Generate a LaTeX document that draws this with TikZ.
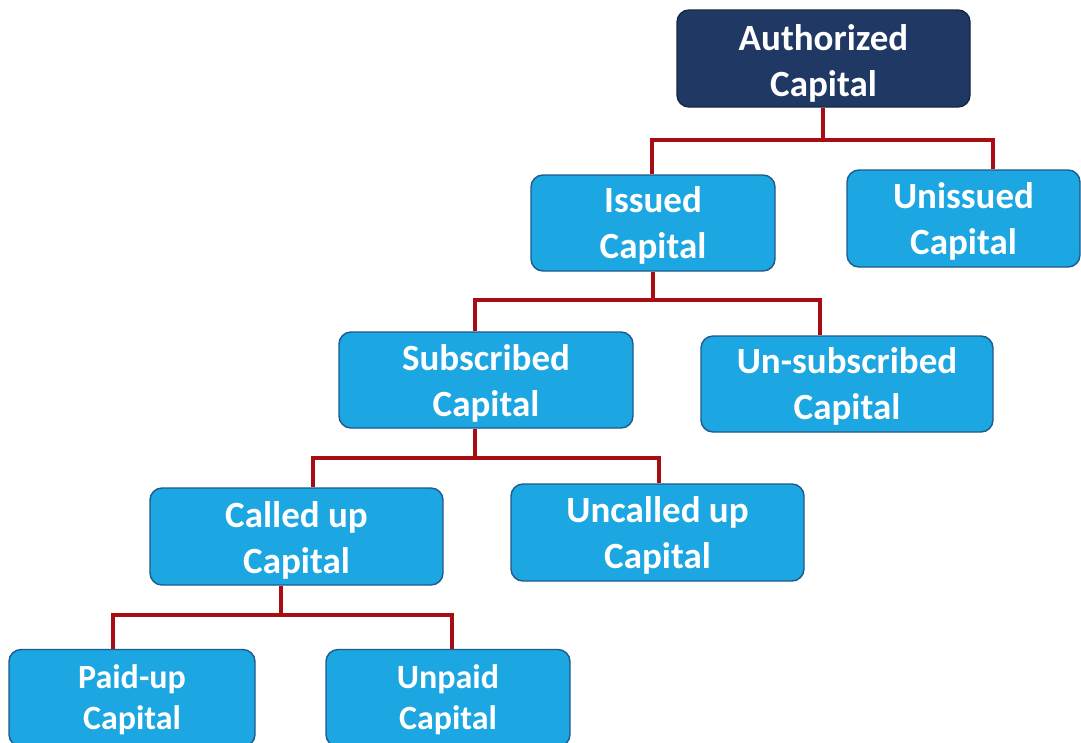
\documentclass[tikz,border=0pt]{standalone}
\usepackage{fontspec}
\setmainfont{Carlito}
\definecolor{navy}{HTML}{1F3864}
\definecolor{boxblue}{HTML}{1CA6E2}
\definecolor{boxedge}{HTML}{1F5A8C}
\definecolor{linered}{HTML}{A80D12}
\newcommand{\twoline}[3]{\raisebox{#3}[\height][\depth]{\begin{tabular}{@{}c@{}}#1\\#2\end{tabular}}}
\tikzset{
  base/.style={rounded corners=12pt, draw=boxedge, line width=1.4pt, align=center,
    text=white, font=\fontsize{37}{46}\selectfont\bfseries, inner sep=0pt},
  box/.style={base, fill=boxblue},
  smallbox/.style={box, font=\fontsize{34}{41}\selectfont\bfseries},
  topbox/.style={base, fill=navy, draw=navy!70!black},
  conn/.style={draw=linered, line width=3.8pt}
}
\begin{document}
\begin{tikzpicture}[x=1pt,y=-1pt]
\useasboundingbox (0,0) rectangle (1081,742);
\clip (0,0) rectangle (1081,742);
\fill[white] (0,0) rectangle (1081,742);
\coordinate (j1a) at (823,140);
\coordinate (j2a) at (653,300);
\coordinate (j3a) at (475,458);
\coordinate (j4a) at (281,615);
\node[topbox, minimum width=293pt, minimum height=97pt] (auth) at (823.5,58.5) {\twoline{Authorized}{Capital}{-6pt}};
\node[box, minimum width=244pt, minimum height=96pt] (issued) at (653,223) {\twoline{Issued}{Capital}{-3pt}};
\node[box, minimum width=233pt, minimum height=97pt] (unissued) at (963.5,218.5) {\twoline{Unissued}{Capital}{-4pt}};
\node[box, minimum width=294pt, minimum height=96pt] (subscribed) at (486,380) {\twoline{Subscribed}{Capital}{-4pt}};
\node[box, minimum width=292pt, minimum height=96pt] (unsub) at (847,384) {\twoline{Un-subscribed}{Capital}{-3.5pt}};
\node[box, minimum width=293pt, minimum height=97pt] (called) at (296.5,536.5) {\twoline{Called up}{Capital}{-5pt}};
\node[box, minimum width=293pt, minimum height=97pt] (uncalled) at (657.5,532.5) {\twoline{Uncalled up}{Capital}{-4pt}};
\node[smallbox, minimum width=246pt, minimum height=97pt] (paid) at (132,698) {\twoline{Paid-up}{Capital}{-3pt}};
\node[smallbox, minimum width=244pt, minimum height=97pt] (unpaid) at (448,698) {\twoline{Unpaid}{Capital}{-3pt}};
\draw[conn] ([xshift=-0.5pt]auth.south) -- (j1a);
\draw[conn] ([xshift=-1pt]issued.north) |- (j1a) -| ([xshift=29.5pt]unissued.north);
\draw[conn] (issued.south) -- (j2a);
\draw[conn] ([xshift=-11pt]subscribed.north) |- (j2a) -| ([xshift=-27pt]unsub.north);
\draw[conn] ([xshift=-11pt]subscribed.south) -- (j3a);
\draw[conn] ([xshift=16.5pt]called.north) |- (j3a) -| ([xshift=1.5pt]uncalled.north);
\draw[conn] ([xshift=-15.5pt]called.south) -- (j4a);
\draw[conn] ([xshift=-19pt]paid.north) |- (j4a) -| ([xshift=4pt]unpaid.north);
\end{tikzpicture}
\end{document}
